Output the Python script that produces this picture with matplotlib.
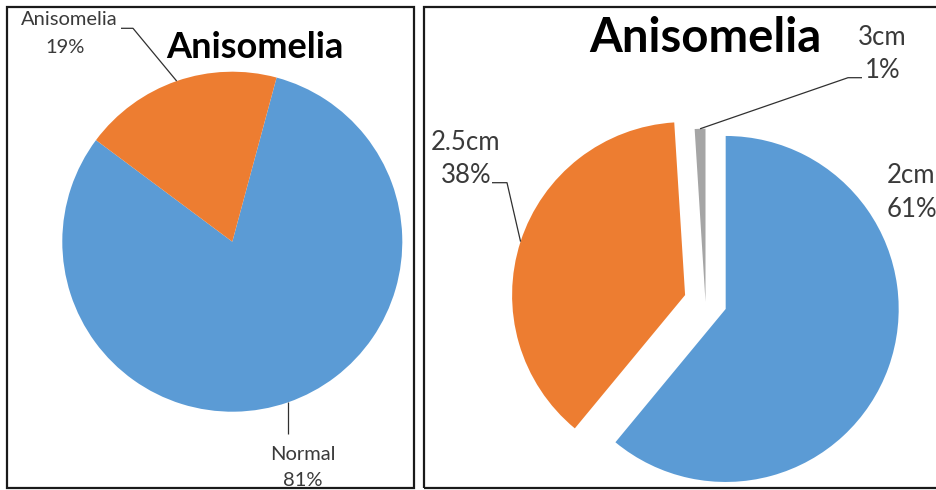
import numpy as np
import matplotlib.pyplot as plt
from matplotlib.patches import Rectangle

# canvas size in pixels (dpi 100)
W, H = 936, 490

# left chart: share of anisomelia
left_title = 'Anisomelia'
left_labels = ['Normal', 'Anisomelia']
left_values = [81, 19]

# right chart: amount of limb length difference
right_title = 'Anisomelia'
right_labels = ['2cm', '2.5cm', '3cm']
right_values = [61, 38, 1]

blue = '#5B9BD5'
orange = '#ED7D31'
gray = '#A5A5A5'
label_color = '#3a3a3a'

plt.rcParams['font.family'] = ['Lato', 'DejaVu Sans']

fig = plt.figure(figsize=(W / 100, H / 100), dpi=100)
ax = fig.add_axes([0, 0, 1, 1])


def fy(y):
    # image rows (top down) -> axes y (bottom up)
    return H - y


def mid_point(w):
    # point on the arc halfway through a wedge, where the leader line starts
    t = np.deg2rad((w.theta1 + w.theta2) / 2)
    cx, cy = w.center
    return cx + w.r * np.cos(t), cy + w.r * np.sin(t)


def leader(start, pts):
    xs = [start[0]] + [p[0] for p in pts]
    ys = [start[1]] + [fy(p[1]) for p in pts]
    ax.plot(xs, ys, color='#303030', lw=0.9, solid_capstyle='butt', zorder=3)


# ---- left pie ----
r1 = 170
wl, _ = ax.pie(left_values, colors=[blue, orange], startangle=74.9,
               counterclock=False, center=(232.3, fy(241.7)), radius=r1,
               wedgeprops=dict(linewidth=0))

ax.text(255, fy(58), left_title, ha='center', va='baseline',
        fontsize=26, fontweight='bold', color='black')

# Anisomelia label top left
leader(mid_point(wl[1]), [(133, 28.3), (121, 28.3)])
ax.text(69, fy(25), left_labels[1], ha='center', va='baseline',
        fontsize=14.5, color=label_color)
ax.text(65, fy(53), f'{left_values[1]}%', ha='center', va='baseline',
        fontsize=14.5, color=label_color)

# Normal label bottom
p = mid_point(wl[0])
leader(p, [(p[0], 434)])
ax.text(303, fy(460), left_labels[0], ha='center', va='baseline',
        fontsize=14.5, color=label_color)
ax.text(303, fy(486), f'{left_values[0]}%', ha='center', va='baseline',
        fontsize=14.5, color=label_color)

# ---- right pie (exploded) ----
r2 = 173
explode = [0.124 * r2, 0.124 * r2, 0.0]
wr, _ = ax.pie(right_values, colors=[blue, orange, gray], startangle=90,
               counterclock=False, center=(705.5, fy(301.7)), radius=r2,
               explode=explode, wedgeprops=dict(linewidth=0))

ax.text(705, fy(52), right_title, ha='center', va='baseline',
        fontsize=34, fontweight='bold', color='black')

# 2cm, right side, no leader
ax.text(887, fy(183), right_labels[0], ha='left', va='baseline',
        fontsize=18.5, color=label_color)
ax.text(887, fy(217), f'{right_values[0]}%', ha='left', va='baseline',
        fontsize=18.5, color=label_color)

# 2.5cm, left side
leader(mid_point(wr[1]), [(507, 182.7), (492, 182.7)])
ax.text(465, fy(150), right_labels[1], ha='center', va='baseline',
        fontsize=18.5, color=label_color)
ax.text(466, fy(183), f'{right_values[1]}%', ha='center', va='baseline',
        fontsize=18.5, color=label_color)

# 3cm, top right
leader(mid_point(wr[2]), [(848, 77.7), (862, 77.7)])
ax.text(882, fy(45), right_labels[2], ha='center', va='baseline',
        fontsize=18.5, color=label_color)
ax.text(883, fy(78), f'{right_values[2]}%', ha='center', va='baseline',
        fontsize=18.5, color=label_color)

# panel frames
ax.add_patch(Rectangle((7, fy(488)), 407, 481, fill=False,
                       edgecolor='#1a1a1a', lw=1.6, zorder=5))
ax.add_patch(Rectangle((424, fy(488)), 530, 481, fill=False,
                       edgecolor='#1a1a1a', lw=1.6, zorder=5, clip_on=False))

ax.set_aspect('auto')
ax.set_xlim(0, W)
ax.set_ylim(0, H)
ax.axis('off')

fig.savefig('out.png', dpi=100)
